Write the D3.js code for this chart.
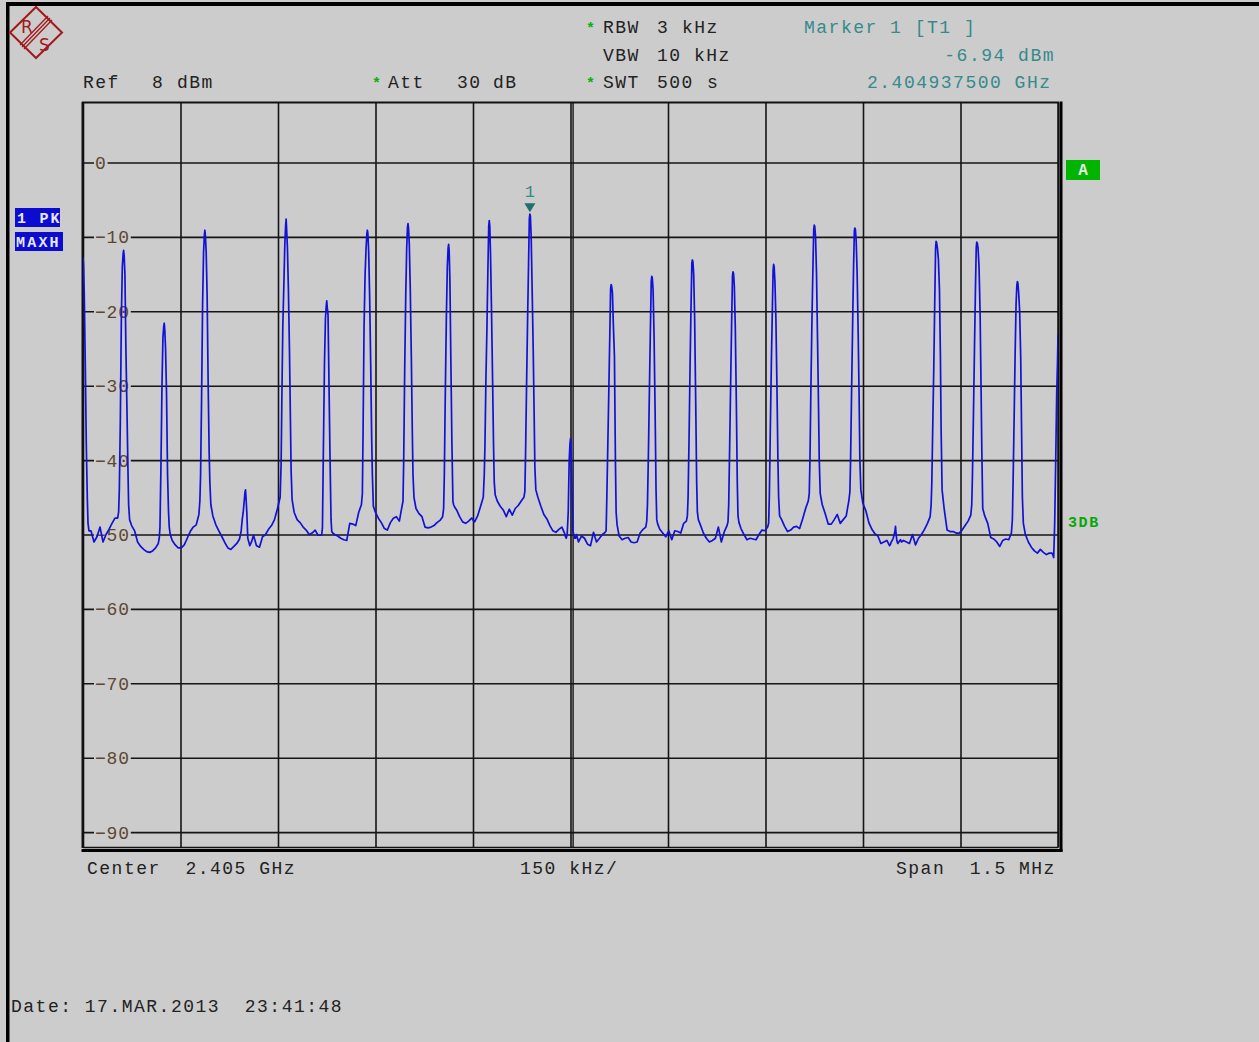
<!DOCTYPE html>
<html>
<head>
<meta charset="utf-8">
<script src="https://cdn.jsdelivr.net/npm/d3@7"></script>
<style>
body { margin: 0; background: #cccccc; }
svg { display: block; }
text { font-family: "Liberation Mono", monospace; white-space: pre; }
</style>
</head>
<body>
<svg id="chart" width="1259" height="1042"></svg>
<script>
// ---- analyzer settings / data ----
const spanKHz = [-750, 750];          // offset from centre 2.405 GHz
const levelRange = [8, -92];          // dBm, ref level at top
const freqTicksKHz = [-750, -600, -450, -300, -150, 0, 150, 300, 450, 600, 750];
const levelTicks = [0, -10, -20, -30, -40, -50, -60, -70, -80, -90];

// spectral lines every 62.5 kHz
const channelOffsetsKHz = [-750, -687.5, -625, -562.5, -500, -437.5, -375, -312.5, -250, -187.5,
    -125, -62.5, 0, 62.5, 125, 187.5, 250, 312.5, 375, 437.5, 500, 562.5, 625, 687.5, 750];

// trace sample positions around each line (kHz)
const sampleOffsetsKHz = [-9.2, -7.7, -6.6, -5.1, -3.5, -2.0, -0.8, 0, 0.8, 2.0, 3.5, 5.1, 6.6, 7.7, 9.2,
    12.3, 16.9, 21.5, 26.2, 30.8, 35.4, 40.0, 44.6, 49.2];

// trace level (dBm) at each sample, one row per line
const traceLevelsDbm = [
    [null, null, null, null, null, null, null, -12.7, -14, -18, -27, -38, -45, -48.5, -49.5, -49.5, -51, -50.3, -49, -51, -50, -49.3, -48.5, -47.8],
    [-47.8, -47, -44, -35, -21, -14, -12.3, -11.8, -12.5, -15, -25, -33, -41, -46, -48, -48.8, -49.5, -51, -51.6, -52, -52.3, -52.4, -52.2, -51.8],
    [-51.2, -50.5, -49, -41, -30, -23.5, -22, -21.6, -22.5, -25, -31, -42, -47, -49, -50, -50.8, -51.4, -51.8, -51.8, -51.4, -50.5, -49.6, -49, -48.7],
    [-47.3, -45.5, -42, -32, -19, -12, -9.8, -9.1, -9.8, -12, -18, -30, -39, -43, -46, -47.5, -48.7, -49.5, -50.3, -51.1, -51.8, -52, -51.6, -51.2],
    [-50.6, -50, -49.5, -48, -47, -45.5, -44.3, -44, -45, -47, -50.5, -51, -51.5, -51.3, -51, -50.1, -51.5, -51.7, -50.3, -50, -49.3, -48.8, -48, -46.5],
    [-45, -40.5, -32, -22, -16.5, -11, -8.5, -7.6, -9, -11.5, -17, -25, -34.5, -41.5, -45.3, -47, -48, -48.4, -49, -49.4, -50, -49.8, -49.4, -50.1],
    [-50.1, -50, -49, -38, -27, -21, -19.3, -18.6, -19.5, -20.5, -30, -40, -48, -49.6, -49.8, -50, -50.2, -50.5, -50.7, -50.8, -48.5, -48.6, -48.8, -47],
    [-46, -44.5, -36, -22, -15, -11.5, -9.6, -9.1, -9.6, -12, -18, -27, -37, -42, -46.2, -47, -47.8, -48.4, -49.2, -49.4, -48.4, -47.8, -47.6, -48.2],
    [-46.2, -45.5, -40, -28, -18, -11.5, -8.7, -8.2, -8.8, -11, -17, -26, -36, -42, -45, -46.5, -47.2, -47.6, -49, -49.1, -49, -48.8, -48.4, -48.1],
    [-47.6, -46.5, -42, -31, -21, -14, -11.5, -11, -11.8, -16, -27, -38, -45.5, -46, -46.3, -46.7, -47.6, -48.3, -48.5, -48.2, -47.8, -48.3, -47.5, -46.2],
    [-45, -42, -38, -29, -22, -14, -8.5, -7.8, -8.5, -12.5, -20, -29, -38, -43, -44.7, -45.5, -46.2, -46.7, -47.6, -46.6, -47.4, -46.5, -46.1, -45.5],
    [-45, -44.2, -39, -30, -21, -13.5, -7.5, -6.94, -7.2, -10, -17, -25, -34, -41, -44, -45, -46.2, -47.3, -47.9, -48.8, -49.5, -49.7, -49.3, -49],
    [-49.8, -50.3, -50.5, -50, -47, -40, -37.8, -37.1, -38, -42, -49.5, -50, -50.5, -50.5, -50, -51, -50.2, -50.5, -51.3, -51.5, -49.7, -51, -50.5, -50],
    [-49.7, -49.5, -45, -38, -30.5, -23, -17, -16.4, -16.6, -17.5, -22, -26, -40, -47, -48.7, -50.2, -50.7, -50.5, -50.4, -51, -51.1, -51, -49.8, -49.3],
    [-49, -48.2, -46, -39, -30, -22, -16, -15.3, -15.5, -17, -23, -33, -44, -48, -48.6, -49.3, -49.8, -50.3, -49.5, -50.7, -49.5, -49.6, -49.8, -48.5],
    [-48.2, -47.5, -45, -37, -27, -19, -13.5, -13.1, -13.3, -15, -21, -32, -43, -47, -48, -48.7, -49.8, -50.5, -51, -50.8, -50.5, -49, -51, -49.6],
    [-48.8, -48.3, -46, -38, -29, -21, -15.2, -14.7, -14.9, -16.5, -22, -32, -43, -47.5, -48.4, -49.2, -50, -50.7, -50.5, -50.6, -50.7, -50, -49.4, -49.5],
    [-49, -48.5, -45, -36, -27, -20, -14.5, -13.7, -14, -16, -21, -30, -40, -45, -47.5, -48, -48.9, -49.6, -49.4, -49, -48.9, -49.2, -47.9, -46.5],
    [-45.5, -44.5, -40, -30, -21, -14, -9, -8.4, -8.6, -10, -15, -24, -33, -40, -44.5, -46, -47.2, -48.6, -48.6, -48, -47.3, -48.5, -48, -47.5],
    [-45.4, -44.3, -40, -31, -22, -14, -9.2, -8.8, -9, -10.5, -15, -23, -32, -40, -44, -45.8, -46.8, -48.4, -49.3, -49.9, -50.2, -51.2, -51, -50.8],
    [-51.5, -51.3, -51, -50.8, -50.5, -50, -49.5, -48.9, -49.8, -50.8, -51.2, -51, -50.8, -50.7, -51, -50.8, -51, -51.2, -50, -51.4, -50.5, -50, -49.3, -48.5],
    [-47.6, -46, -43, -35, -27, -18, -11.5, -10.6, -10.8, -11.5, -13, -17, -26, -36, -44, -46.5, -49.4, -49.6, -49.6, -49.8, -49.8, -49.4, -48.8, -48.2],
    [-47.4, -46, -42, -34, -25, -17, -11.5, -10.7, -10.8, -11.5, -14, -20, -30, -38, -46.5, -47.5, -48.5, -50.4, -50.6, -51, -51.6, -50.8, -50.6, -50.7],
    [-49.8, -48, -43, -35, -26, -19, -16.5, -16, -16.2, -17.5, -20, -26, -37, -45, -48.5, -50, -51, -51.7, -52.2, -52.5, -52, -52.4, -52.7, -52.5],
    [-52.5, -52.8, -53.1, -48.5, -40, -31, -27, -23.2, null, null, null, null, null, null, null, null, null, null, null, null, null, null, null, null]
];

const markerFreqKHz = -62.5;   // 2.4049375 GHz
const markerLevelDbm = -6.94;

// ---- drawing ----
const svg = d3.select('#chart');
const plot = {left: 83, right: 1058, top: 103, bottom: 847};

let x = d3.scaleLinear().domain(spanKHz).range([plot.left, plot.right]);
let y = d3.scaleLinear().domain(levelRange).range([plot.top, plot.bottom]);

let ink = '#222222';
let teal = '#358a8a';
let green = '#08b008';
let charGap = 1.5;

// screen border
svg.append('rect').attr('x', 6).attr('y', 2).attr('width', 1253).attr('height', 4).attr('fill', '#000');
svg.append('rect').attr('x', 6).attr('y', 2).attr('width', 3.5).attr('height', 1040).attr('fill', '#000');

// R&S logo
let logo = svg.append('g').attr('stroke', '#a3181c').attr('fill', 'none');
logo.append('path').attr('d', 'M36,7 L62,32.5 L36,58 L10,32.5 Z').attr('stroke-width', 2);
[-2, 0, 2].forEach(function (o) {
    logo.append('line')
        .attr('x1', 22 + o).attr('y1', 47 + o)
        .attr('x2', 50 + o).attr('y2', 18 + o)
        .attr('stroke-width', 1.3);
});
svg.append('text').attr('x', 21).attr('y', 33).text('R')
    .attr('font-size', 17).attr('fill', '#a3181c').style('font-family', 'DejaVu Sans');
svg.append('text').attr('x', 39).attr('y', 51).text('S')
    .attr('font-size', 17).attr('fill', '#a3181c').style('font-family', 'DejaVu Sans');

// header texts
function label(txt, px, py, color, anchor) {
    return svg.append('text')
        .attr('x', px).attr('y', py)
        .attr('font-size', 18)
        .attr('letter-spacing', charGap)
        .attr('fill', color || ink)
        .attr('text-anchor', anchor || 'start')
        .text(txt);
}
function star(px, py) {
    label('*', px, py, green).attr('font-weight', 'bold').attr('font-size', 15);
}

star(586, 33); label('RBW', 603, 33); label('3', 657, 33); label('kHz', 682, 33);
label('Marker 1 [T1 ]', 804, 33, teal);
label('VBW', 603, 61); label('10', 657, 61); label('kHz', 694, 61);
label('-6.94 dBm', 1055, 61, teal, 'end');
label('Ref', 83, 88); label('8', 152, 88); label('dBm', 177, 88);
star(372, 88); label('Att', 388, 88); label('30', 457, 88); label('dB', 493, 88);
star(586, 88); label('SWT', 603, 88); label('500', 657, 88); label('s', 707, 88);
label('2.404937500 GHz', 867, 88, teal);

// grid via axes
let gx = svg.append('g')
    .attr('transform', 'translate(0,' + plot.bottom + ')')
    .call(d3.axisBottom(x).tickValues(freqTicksKHz).tickSize(-(plot.bottom - plot.top)).tickFormat(''));
gx.select('.domain').remove();
gx.selectAll('line').attr('stroke', '#151515').attr('stroke-width', 1.6);

// centre line is drawn double
svg.append('line')
    .attr('x1', x(0) + 2.6).attr('x2', x(0) + 2.6)
    .attr('y1', plot.top).attr('y2', plot.bottom)
    .attr('stroke', '#151515').attr('stroke-width', 1.4);

let gy = svg.append('g')
    .attr('transform', 'translate(' + plot.left + ',0)')
    .call(d3.axisLeft(y).tickValues(levelTicks).tickSize(-(plot.right - plot.left)).tickFormat(''));
gy.select('.domain').remove();
gy.selectAll('line').attr('stroke', '#151515').attr('stroke-width', 1.6);

// level labels sit on the grid lines
levelTicks.forEach(function (v) {
    let t = v === 0 ? '0' : '\u2212' + Math.abs(v);
    svg.append('rect')
        .attr('x', 94).attr('y', y(v) - 7)
        .attr('width', t.length * 11.6 + 2).attr('height', 14)
        .attr('fill', '#cccccc');
    svg.append('text')
        .attr('x', 95).attr('y', y(v)).attr('dy', '0.36em')
        .attr('font-size', 18).attr('letter-spacing', 0.8)
        .attr('fill', '#5c4732')
        .text(t);
});

// frame
svg.append('line').attr('x1', plot.left - 0.5).attr('x2', plot.left - 0.5)
    .attr('y1', plot.top - 1).attr('y2', plot.bottom + 1).attr('stroke', '#111').attr('stroke-width', 2);
svg.append('line').attr('x1', plot.left - 1).attr('x2', plot.right + 1)
    .attr('y1', plot.top - 0.5).attr('y2', plot.top - 0.5).attr('stroke', '#111').attr('stroke-width', 2);
svg.append('line').attr('x1', plot.right).attr('x2', plot.right)
    .attr('y1', plot.top).attr('y2', plot.bottom + 1).attr('stroke', '#111').attr('stroke-width', 1.4);
svg.append('line').attr('x1', plot.left).attr('x2', plot.right)
    .attr('y1', plot.bottom + 0.5).attr('y2', plot.bottom + 0.5).attr('stroke', '#111').attr('stroke-width', 1.4);
svg.append('line').attr('x1', plot.right + 3).attr('x2', plot.right + 3)
    .attr('y1', plot.top - 1.5).attr('y2', plot.bottom + 5).attr('stroke', '#000').attr('stroke-width', 3);
svg.append('line').attr('x1', plot.left - 1.5).attr('x2', plot.right + 4.5)
    .attr('y1', plot.bottom + 3.5).attr('y2', plot.bottom + 3.5).attr('stroke', '#000').attr('stroke-width', 3);

// trace
svg.append('clipPath').attr('id', 'plotClip')
    .append('rect')
    .attr('x', plot.left).attr('y', plot.top)
    .attr('width', plot.right - plot.left).attr('height', plot.bottom - plot.top);

let tracePoints = [];
channelOffsetsKHz.forEach(function (c, i) {
    sampleOffsetsKHz.forEach(function (o, j) {
        let v = traceLevelsDbm[i][j];
        if (v !== null) tracePoints.push([c + o, v]);
    });
});

let traceLine = d3.line()
    .x(function (d) { return x(d[0]); })
    .y(function (d) { return y(d[1]); });

svg.append('path')
    .datum(tracePoints)
    .attr('clip-path', 'url(#plotClip)')
    .attr('d', traceLine)
    .attr('fill', 'none')
    .attr('stroke', '#1212d6')
    .attr('stroke-width', 1.7)
    .attr('stroke-linejoin', 'round');

// marker 1
let mx = x(markerFreqKHz);
let my = y(markerLevelDbm);
svg.append('path')
    .attr('d', 'M' + (mx - 5.5) + ',' + (my - 11) + ' L' + (mx + 5.5) + ',' + (my - 11) + ' L' + mx + ',' + (my - 2) + ' Z')
    .attr('fill', '#1f6f6c');
svg.append('text')
    .attr('x', mx).attr('y', my - 17)
    .attr('text-anchor', 'middle')
    .attr('font-size', 17).attr('fill', teal)
    .text('1');

// side annotations
svg.append('rect').attr('x', 15).attr('y', 208).attr('width', 45).attr('height', 19).attr('fill', '#0c0cd0');
svg.append('text').attr('x', 17).attr('y', 223).attr('font-size', 15).attr('font-weight', 'bold')
    .attr('letter-spacing', 2.2).attr('fill', '#e6e6ee').text('1 PK');
svg.append('rect').attr('x', 15).attr('y', 232).attr('width', 48).attr('height', 19).attr('fill', '#0c0cd0');
svg.append('text').attr('x', 16).attr('y', 247).attr('font-size', 15).attr('font-weight', 'bold')
    .attr('letter-spacing', 2.2).attr('fill', '#e6e6ee').text('MAXH');

svg.append('rect').attr('x', 1066).attr('y', 160).attr('width', 34).attr('height', 20).attr('fill', '#00b400');
svg.append('text').attr('x', 1083).attr('y', 175).attr('text-anchor', 'middle')
    .attr('font-size', 16).attr('fill', '#e8e8e8').attr('font-weight', 'bold').text('A');
svg.append('text').attr('x', 1068).attr('y', 527).attr('font-size', 15).attr('font-weight', 'bold')
    .attr('letter-spacing', 1.6).attr('fill', '#06a806').text('3DB');

// footer
label('Center  2.405 GHz', 87, 874);
label('150 kHz/', 520, 874);
label('Span  1.5 MHz', 896, 874);
label('Date: 17.MAR.2013  23:41:48', 11, 1012);
</script>
</body>
</html>
